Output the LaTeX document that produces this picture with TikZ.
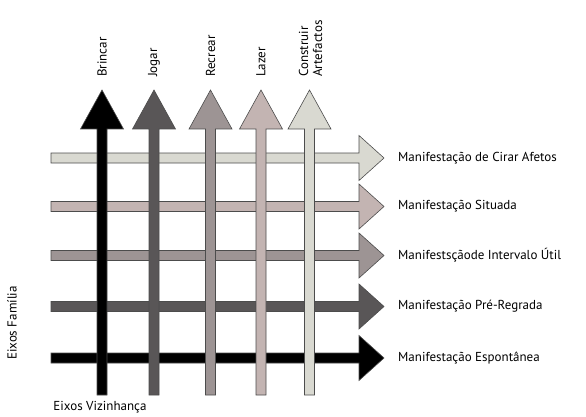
\documentclass[tikz,border=0pt]{standalone}
\usepackage{fontspec}
\setmainfont{PT Sans}
\usetikzlibrary{calc}
\definecolor{cDark}{HTML}{595657}
\definecolor{cGray}{HTML}{9D9494}
\definecolor{cPink}{HTML}{C3B4B2}
\definecolor{cLight}{HTML}{D9D9D1}
\tikzset{
  fatarrow/.style={draw=black!70, line width=0.6pt},
  lab/.style={font=\fontsize{13}{14}\selectfont, inner sep=0pt}
}
\begin{document}
\begin{tikzpicture}[x=1pt,y=-1pt]
\useasboundingbox (0,0) rectangle (586,417);
% horizontal axes (Eixos Familia)
\foreach \yy/\cc/\nm in {158/cLight/h1, 206.5/cPink/h2, 255.5/cGray/h3, 306.5/cDark/h4, 358/black/h5} {
  \coordinate (\nm s) at (51,\yy);
  \coordinate (\nm e) at (384,\yy);
  \filldraw[fatarrow, fill=\cc] ($(\nm s)+(0,-5)$) -- ($(\nm e)+(-25,-5)$) -- ($(\nm e)+(-25,-22.5)$)
    -- (\nm e) -- ($(\nm e)+(-25,22.5)$) -- ($(\nm e)+(-25,5)$) -- ($(\nm s)+(0,5)$) -- cycle;
}
% vertical axes (Eixos Vizinhanca)
\foreach \xx/\cc/\nm in {102/black/v1, 154/cDark/v2, 210.5/cGray/v3, 261/cPink/v4, 309.5/cLight/v5} {
  \coordinate (\nm s) at (\xx,395);
  \coordinate (\nm e) at (\xx,90);
  \filldraw[fatarrow, fill=\cc] ($(\nm s)+(-5,0)$) -- ($(\nm e)+(-5,39)$) -- ($(\nm e)+(-21.5,39)$)
    -- (\nm e) -- ($(\nm e)+(21.5,39)$) -- ($(\nm e)+(5,39)$) -- ($(\nm s)+(5,0)$) -- cycle;
}
% labels
\node[lab, rotate=90, anchor=west] (brincar) at (102,77) {Brincar};
\node[lab, rotate=90, anchor=west] (jogar) at (154,77) {Jogar};
\node[lab, rotate=90, anchor=west] (recrear) at (210.5,77) {Recrear};
\node[lab, rotate=90, anchor=west] (lazer) at (261,77) {Lazer};
\node[lab, rotate=90, anchor=west, align=left] (construir) at (310.5,77) {Construir\\Artefactos};
\node[lab, anchor=west] (afetos) at (398,158) {Manifestação de Cirar Afetos};
\node[lab, anchor=west] (situada) at (398,206.5) {Manifestação Situada};
\node[lab, anchor=west] (intervalo) at (398,255.5) {Manifestsçãode Intervalo Útil};
\node[lab, anchor=west] (regrada) at (398,306.5) {Manifestação Pré-Regrada};
\node[lab, anchor=west] (espontanea) at (398,358) {Manifestação Espontânea};
\node[lab, rotate=90] (familia) at (12,323) {Eixos Família};
\node[lab] (vizinhanca) at (100,407) {Eixos Vizinhança};
\end{tikzpicture}
\end{document}
